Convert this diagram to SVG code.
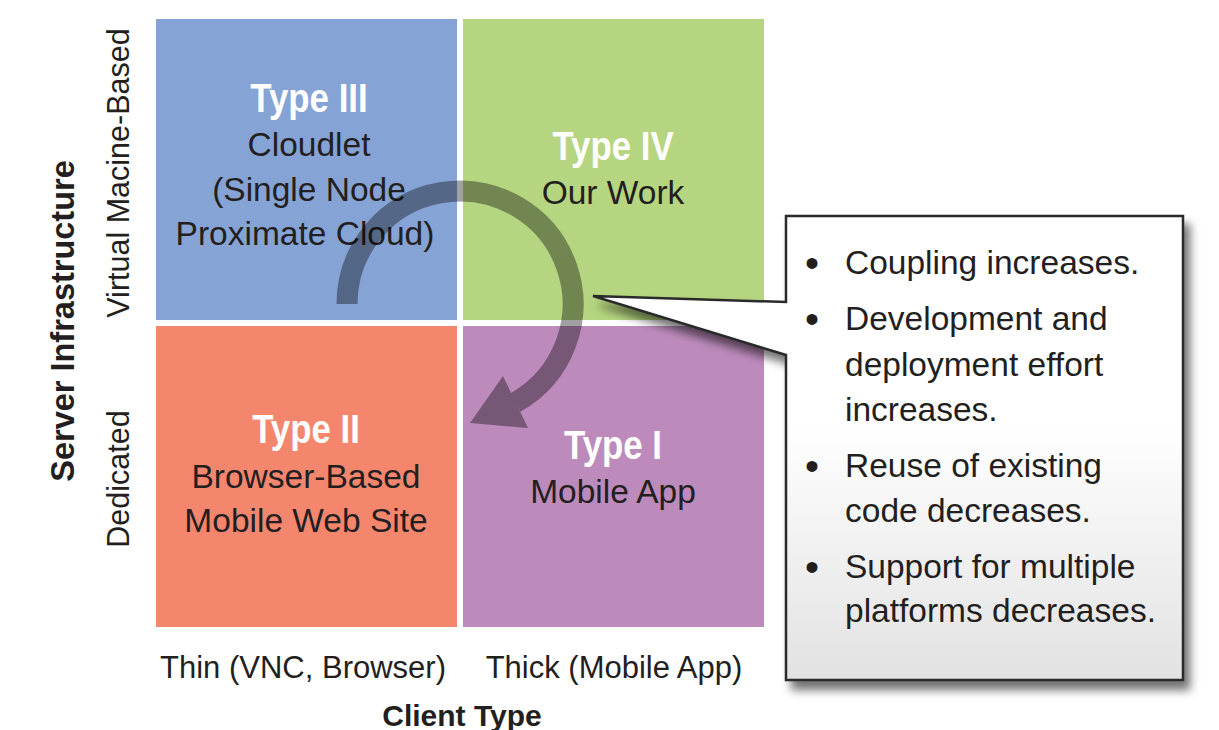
<svg xmlns="http://www.w3.org/2000/svg" width="1219" height="730" viewBox="0 0 1219 730">
<defs>
<style>
.body{font-family:"Liberation Sans",Arial,sans-serif;font-size:33.5px;fill:#231f20;text-anchor:middle}
.title{font-family:"Liberation Sans",Arial,sans-serif;font-weight:bold;font-size:40px;fill:#ffffff;text-anchor:middle}
.axis{font-family:"Liberation Sans",Arial,sans-serif;font-size:31px;fill:#231f20;text-anchor:middle}
.axisv{font-family:"Liberation Sans",Arial,sans-serif;font-size:30.5px;fill:#231f20;text-anchor:middle}
.axisb{font-family:"Liberation Sans",Arial,sans-serif;font-weight:bold;font-size:30px;fill:#231f20;text-anchor:middle}
.axisbv{font-family:"Liberation Sans",Arial,sans-serif;font-weight:bold;font-size:32.5px;fill:#231f20;text-anchor:middle}
.note{font-family:"Liberation Sans",Arial,sans-serif;font-size:33.5px;fill:#231f20}
.bullet{font-family:"Liberation Sans",Arial,sans-serif;font-size:40px;fill:#231f20}
</style>
<linearGradient id="boxfill" x1="0" y1="0" x2="0" y2="1">
<stop offset="0" stop-color="#ffffff"/>
<stop offset="0.45" stop-color="#ffffff"/>
<stop offset="1" stop-color="#e2e2e2"/>
</linearGradient>
<filter id="shadow" x="-10%" y="-10%" width="130%" height="130%">
<feDropShadow dx="6" dy="9" stdDeviation="5" flood-color="#000" flood-opacity="0.55"/>
</filter>
</defs>
<rect width="1219" height="730" fill="#ffffff"/>

<g id="type-iii">
<rect x="156" y="19" width="301" height="301" fill="#85a3d4"/>
<text class="title" transform="translate(309,112) scale(0.87,1)">Type III</text>
<text class="body" x="309" y="156">Cloudlet</text>
<text class="body" x="309" y="201">(Single Node</text>
<text class="body" x="305" y="245">Proximate Cloud)</text>
</g>
<g id="type-iv">
<rect x="463" y="19" width="301" height="301" fill="#b5d580"/>
<text class="title" transform="translate(613,160) scale(0.87,1)">Type IV</text>
<text class="body" x="613" y="204">Our Work</text>
</g>
<g id="type-ii">
<rect x="156" y="326" width="301" height="301" fill="#f5866e"/>
<text class="title" transform="translate(306,443) scale(0.87,1)">Type II</text>
<text class="body" x="306" y="488">Browser-Based</text>
<text class="body" x="306" y="532">Mobile Web Site</text>
</g>
<g id="type-i">
<rect x="463" y="326" width="301" height="301" fill="#bc8bbb"/>
<text class="title" transform="translate(613,459) scale(0.87,1)">Type I</text>
<text class="body" x="613" y="503">Mobile App</text>
</g>

<g id="connectors">
<g opacity="0.37">
<path d="M347 304 A113 113 0 1 1 515.3 402.6" fill="none" stroke="#000" stroke-width="21"/>
<polygon points="503,376 528,428 470,423" fill="#000"/>
</g>
</g>

<g id="callout">
<path d="M786 216 L1183 216 L1183 680 L786 680 L786 355 L593 296 L786 302 Z" fill="url(#boxfill)" stroke="#2a2a2a" stroke-width="2.5" stroke-linejoin="miter" filter="url(#shadow)"/>
<text class="bullet" x="805" y="277">•</text><text class="note" x="845" y="274">Coupling increases.</text>
<text class="bullet" x="805" y="333">•</text><text class="note" x="845" y="330">Development and</text>
<text class="note" x="845" y="376">deployment effort</text>
<text class="note" x="845" y="421">increases.</text>
<text class="bullet" x="805" y="480">•</text><text class="note" x="845" y="477">Reuse of existing</text>
<text class="note" x="845" y="522">code decreases.</text>
<text class="bullet" x="805" y="581">•</text><text class="note" x="845" y="578">Support for multiple</text>
<text class="note" x="845" y="622">platforms decreases.</text>
</g>

<g id="axes">
<text class="axis" x="303" y="678">Thin (VNC, Browser)</text>
<text class="axis" x="614" y="678">Thick (Mobile App)</text>
<text class="axisb" x="462" y="726">Client Type</text>
<text class="axisbv" transform="translate(74,321) rotate(-90)">Server Infrastructure</text>
<text class="axisv" transform="translate(129,173) rotate(-90)">Virtual Macine-Based</text>
<text class="axisv" transform="translate(129,479) rotate(-90)">Dedicated</text>
</g>
</svg>
